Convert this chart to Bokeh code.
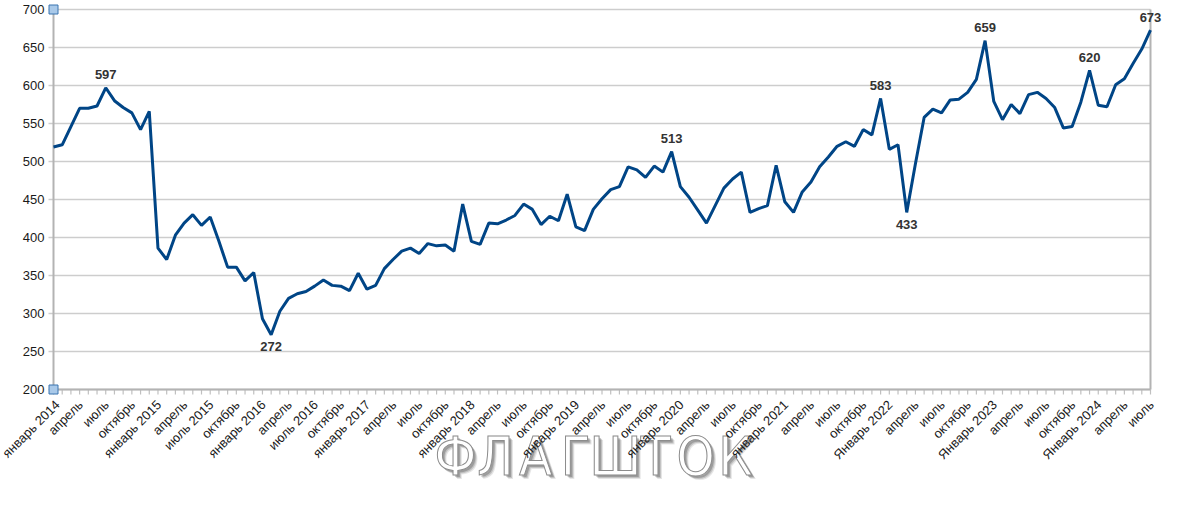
import numpy as np
from bokeh.plotting import figure
from bokeh.models import Range1d, Label, LabelSet, ColumnDataSource
from bokeh.embed import file_html
from bokeh.resources import INLINE
from bokeh.core.properties import value

# Monthly values, January 2014 .. July 2024
values = [
    519, 522, 546, 570, 570, 573, 597, 580, 571, 564, 542, 566,   # 2014
    386, 371, 403, 419, 430, 416, 427, 395, 361, 361, 343, 354,   # 2015
    293, 272, 303, 320, 326, 329, 336, 344, 337, 336, 330, 353,   # 2016
    332, 337, 359, 371, 382, 386, 379, 392, 389, 390, 382, 444,   # 2017
    395, 391, 419, 418, 423, 429, 444, 437, 417, 428, 422, 457,   # 2018
    414, 409, 437, 451, 463, 467, 493, 489, 479, 494, 486, 513,   # 2019
    467, 453, 436, 419, 442, 465, 477, 486, 433, 438, 442, 495,   # 2020
    447, 433, 460, 473, 493, 506, 520, 526, 520, 542, 535, 583,   # 2021
    516, 522, 433, 497, 558, 569, 564, 581, 582, 591, 608, 659,   # 2022
    579, 555, 575, 563, 588, 591, 583, 571, 544, 546, 578, 620,   # 2023
    574, 572, 601, 609, 629, 648, 673,                            # 2024
]

tick_labels = [
    "январь 2014", "апрель", "июль", "октябрь",
    "январь 2015", "апрель", "июль 2015", "октябрь",
    "январь 2016", "апрель", "июль 2016", "октябрь",
    "январь 2017", "апрель", "июль", "октябрь",
    "январь 2018", "апрель", "июль", "октябрь",
    "январь 2019", "апрель", "июль", "октябрь",
    "январь 2020", "апрель", "июль", "октябрь",
    "январь 2021", "апрель", "июль", "октябрь",
    "Январь 2022", "апрель", "июль", "октябрь",
    "Январь 2023", "апрель", "июль", "октябрь",
    "Январь 2024", "апрель", "июль",
]

y_ticks = [200, 250, 300, 350, 400, 450, 500, 550, 600, 650, 700]

annot_index = [6, 25, 71, 95, 98, 107, 119, 126]
annot_side = [1, -1, 1, 1, -1, 1, 1, 1]

watermark = "ФЛАГШТОК"

# ---- layout constants (pixels) ----
W, H = 1184, 497
LEFT_PX, RIGHT_PX = 53, 1150      # x of first / last month
TOP_PX, BOTTOM_PX = 9, 389        # y of 700 / 200

n = len(values)
x = list(range(n))
ymin, ymax = y_ticks[0], y_ticks[-1]
ppx = (RIGHT_PX - LEFT_PX) / (n - 1)          # pixels per month
ppy = (BOTTOM_PX - TOP_PX) / (ymax - ymin)    # pixels per unit

x_range = Range1d(-LEFT_PX / ppx, (W - LEFT_PX) / ppx)
y_range = Range1d(ymin - (H - BOTTOM_PX) / ppy, ymax + TOP_PX / ppy)

p = figure(width=W, height=H, output_backend="svg", toolbar_location=None,
           x_range=x_range, y_range=y_range, x_axis_type=None, y_axis_type=None,
           min_border=0)
p.min_border_left = p.min_border_right = p.min_border_top = p.min_border_bottom = 0
p.background_fill_color = "white"
p.border_fill_color = "white"
p.outline_line_color = None
p.grid.visible = False

GRID = "#cdcdcd"
AXIS = "#b3b3b3"

# watermark (drawn first, under everything)
wm_font = "'Liberation Sans Narrow', 'DejaVu Sans Condensed', sans-serif"
has_outline = "text_outline_color" in Label.properties()
wm_center, wm_pitch, wm_base, wm_size = 595, 40, 41, "54px"
for k, ch in enumerate(watermark):
    cx = wm_center + (k - (len(watermark) - 1) / 2) * wm_pitch
    for dx, dy, a in [(4, -4, 0.1), (3, -3, 0.15), (2, -2, 0.2)]:
        p.add_layout(Label(x=cx + dx, y=wm_base + dy, x_units="screen", y_units="screen",
                           text=ch, text_font=wm_font, text_font_size=wm_size,
                           text_align="center", text_baseline="alphabetic",
                           text_color="#000000", text_alpha=a, level="underlay"))
    if has_outline:
        p.add_layout(Label(x=cx, y=wm_base, x_units="screen", y_units="screen",
                           text=ch, text_font=wm_font, text_font_size=wm_size,
                           text_align="center", text_baseline="alphabetic",
                           text_color="white", text_outline_color="#8c8c8c",
                           level="underlay"))
    else:
        for dx, dy in [(-1, 0), (1, 0), (0, -1), (0, 1)]:
            p.add_layout(Label(x=cx + dx, y=wm_base + dy, x_units="screen", y_units="screen",
                               text=ch, text_font=wm_font, text_font_size=wm_size,
                               text_align="center", text_baseline="alphabetic",
                               text_color="#8c8c8c", level="underlay"))
        p.add_layout(Label(x=cx, y=wm_base, x_units="screen", y_units="screen",
                           text=ch, text_font=wm_font, text_font_size=wm_size,
                           text_align="center", text_baseline="alphabetic",
                           text_color="white", level="underlay"))

# horizontal grid lines
p.segment(x0=[0] * len(y_ticks), x1=[n - 1] * len(y_ticks), y0=y_ticks, y1=y_ticks,
          line_color=GRID, line_width=1.5)
# y tick marks
p.segment(x0=[0] * len(y_ticks), x1=[-5 / ppx] * len(y_ticks), y0=y_ticks, y1=y_ticks,
          line_color=GRID, line_width=1.5)
# month tick marks
p.segment(x0=x, x1=x, y0=[ymin] * n, y1=[ymin - 5 / ppy] * n, line_color="#c0c0c0", line_width=1.2)
# frame: left axis, bottom axis, right border
p.segment(x0=[0, 0, n - 1], x1=[0, n - 1, n - 1], y0=[ymin, ymin, ymin], y1=[ymax, ymin, ymax],
          line_color=AXIS, line_width=2)

# series line
p.line(x, values, line_color="#004586", line_width=3)

# handle squares at axis ends
p.scatter([0, 0], [ymin, ymax], marker="square", size=9,
          fill_color="#a9c9e9", line_color="#3b75b0", line_width=1)

# y tick labels
ysrc = ColumnDataSource(dict(x=[0] * len(y_ticks), y=y_ticks, text=[str(v) for v in y_ticks]))
p.add_layout(LabelSet(x="x", y="y", text="text", source=ysrc, x_offset=-9,
                      text_align="right", text_baseline="middle",
                      text_font=value("Liberation Sans"), text_font_size="13px",
                      text_color="#1a1a1a"))

# x tick labels (every quarter), rotated
major = list(range(0, n, 3))
xsrc = ColumnDataSource(dict(x=major, y=[ymin] * len(major), text=tick_labels,
                             dx=[4] + [1] * (len(major) - 1)))
p.add_layout(LabelSet(x="x", y="y", text="text", source=xsrc, angle=np.pi / 4,
                      x_offset="dx", y_offset=-13,
                      text_align="right", text_baseline="middle",
                      text_font=value("Liberation Sans"), text_font_size="13px",
                      text_color="#1a1a1a"))

# value annotations
src = ColumnDataSource(dict(
    x=annot_index,
    y=[values[i] for i in annot_index],
    text=[str(values[i]) for i in annot_index],
    dy=[13 if s > 0 else -12 for s in annot_side],
))
p.add_layout(LabelSet(x="x", y="y", text="text", y_offset="dy", source=src,
                      text_align="center", text_baseline="middle",
                      text_font=value("Liberation Sans"), text_font_style="bold",
                      text_font_size="13px", text_color="#333333"))

open("out.html", "w").write(file_html(p, INLINE))
